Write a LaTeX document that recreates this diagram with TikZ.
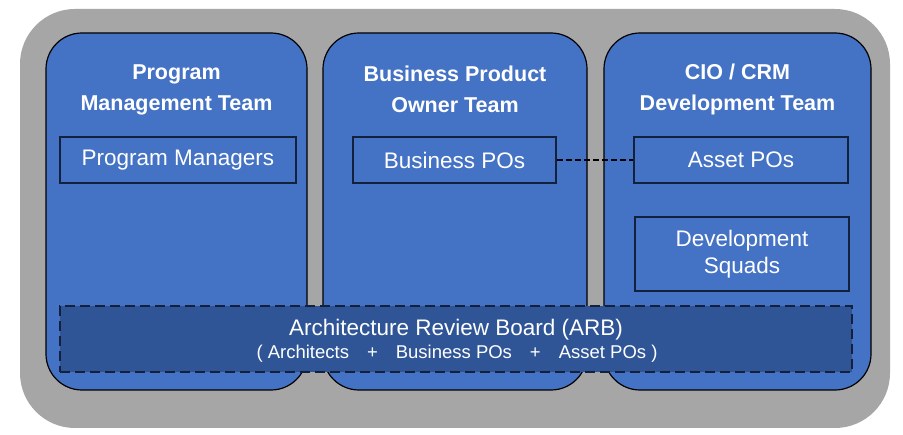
\documentclass[tikz,border=0pt]{standalone}
\usepackage{fontspec}
\setmainfont{Liberation Sans}
\definecolor{panelblue}{HTML}{4472C4}
\definecolor{arbblue}{HTML}{2F5597}
\definecolor{outergray}{HTML}{A6A6A6}
\definecolor{navy}{HTML}{14213D}
\begin{document}
\begin{tikzpicture}[x=1pt,y=-1pt,
  panel/.style={draw=black,line width=1.2pt,fill=panelblue,rounded corners=36pt},
  title/.style={text=white,font=\fontsize{21.5}{31}\selectfont\bfseries,align=center},
  rolebox/.style={draw=navy,line width=1.5pt,fill=panelblue,text=white,
    font=\fontsize{22.5}{27}\selectfont,align=center,inner sep=0pt},
  link/.style={draw=black,line width=1.2pt,dash pattern=on 6pt off 3pt}
]
\useasboundingbox (0,0) rectangle (903,435);
\fill[white] (0,0) rectangle (903,435);
\fill[outergray,rounded corners=55pt] (20,9) rectangle (890,428);
\draw[panel] (46,33) rectangle (307,390);
\draw[panel] (323,33) rectangle (587,390);
\draw[panel] (604,33) rectangle (871,390);
\node[title] (t1) at (176.5,89.5) {Program\\Management Team};
\node[title] (t2) at (455,89.5) {Business Product\\Owner Team};
\node[title] (t3) at (737.5,89.5) {CIO / CRM\\Development Team};
\node[rolebox,minimum width=236pt,minimum height=46pt] (pm) at (178,160) {Program Managers};
\node[rolebox,minimum width=203pt,minimum height=46pt] (bpo) at (454.5,160) {Business POs};
\node[rolebox,minimum width=214pt,minimum height=46pt] (apo) at (741,160) {Asset POs};
\node[rolebox,minimum width=214pt,minimum height=74pt] (ds) at (742,254) {Development\\Squads};
\draw[link] (bpo.east) -- (apo.west);
\node[draw=navy,line width=1.2pt,dash pattern=on 10pt off 5pt,fill=arbblue,
  minimum width=792pt,minimum height=66pt,inner sep=0pt] (arb) at (456,339) {};
\node[text=white,font=\fontsize{22.5}{26}\selectfont] (arbt) at (456,330) {Architecture Review Board (ARB)};
\node[text=white,font=\fontsize{18.5}{22}\selectfont] (arbs) at (457,354)
  {( Architects\hspace{18pt}+\hspace{18pt}Business POs\hspace{18pt}+\hspace{18pt}Asset POs )};
\end{tikzpicture}
\end{document}
